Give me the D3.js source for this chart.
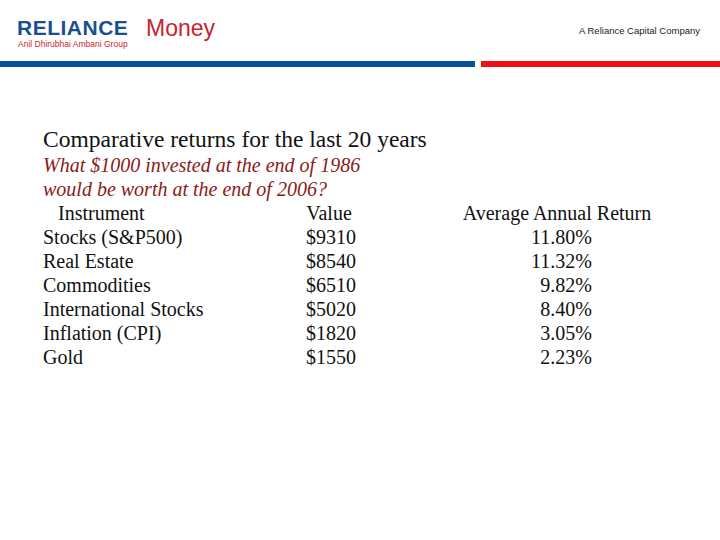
<!DOCTYPE html>
<html><head><meta charset="utf-8">
<script src="https://cdn.jsdelivr.net/npm/d3@7"></script>
<style>body{margin:0;background:#fff}</style>
</head><body>
<div id="chart"></div>
<script>
const instruments = ["Stocks (S&P500)", "Real Estate", "Commodities", "International Stocks", "Inflation (CPI)", "Gold"];
const values = [9310, 8540, 6510, 5020, 1820, 1550];
const returns = [11.80, 11.32, 9.82, 8.40, 3.05, 2.23];
const headers = ["Instrument", "Value", "Average Annual Return"];

const svg = d3.select("#chart").append("svg")
  .attr("width", 720).attr("height", 540);

// Header bars and logo
svg.append("rect").attr("x", 0).attr("y", 61).attr("width", 475).attr("height", 6).attr("fill", "#0d4f9c");
svg.append("rect").attr("x", 481).attr("y", 61).attr("width", 239).attr("height", 6).attr("fill", "#ee1111");
svg.append("text").attr("x", 17).attr("y", 35)
  .attr("font-family", "Liberation Sans, Arial").attr("font-size", 21).attr("font-weight", "bold")
  .attr("fill", "#1a4f8f").attr("letter-spacing", 0.5).text("RELIANCE");
svg.append("text").attr("x", 146).attr("y", 36)
  .attr("font-family", "Liberation Sans, Arial").attr("font-size", 23)
  .attr("fill", "#c8242c").text("Money");
svg.append("text").attr("x", 18).attr("y", 47)
  .attr("font-family", "Liberation Sans, Arial").attr("font-size", 8.5).attr("fill", "#c8242c")
  .text("Anil Dhirubhai Ambani Group");
svg.append("text").attr("x", 700).attr("y", 34).attr("text-anchor", "end")
  .attr("font-family", "Liberation Sans, Arial").attr("font-size", 9.5).attr("fill", "#222")
  .text("A Reliance Capital Company");

const serif = "Liberation Serif, Times New Roman, serif";
svg.append("text").attr("x", 43).attr("y", 147).attr("font-family", serif).attr("font-size", 23.5)
  .attr("fill", "#111").text("Comparative returns for the last 20 years");
["What $1000 invested at the end of 1986", "would be worth at the end of 2006?"].forEach((t, i) =>
  svg.append("text").attr("x", 43).attr("y", 172 + i * 24).attr("font-family", serif)
    .attr("font-size", 20).attr("font-style", "italic").attr("fill", "#8b1a1a").text(t));

// Table rows via band scale
const y = d3.scaleBand().domain(d3.range(instruments.length + 1)).range([202, 370]);
const base = i => y(i) + y.bandwidth() * 0.75;
const g = svg.append("g").attr("font-family", serif).attr("font-size", 20).attr("fill", "#111");

g.append("text").attr("x", 58).attr("y", base(0)).text(headers[0]);
g.append("text").attr("x", 329).attr("y", base(0)).attr("text-anchor", "middle").text(headers[1]);
g.append("text").attr("x", 557).attr("y", base(0)).attr("text-anchor", "middle").text(headers[2]);

const fmt = d3.format(".2f");
instruments.forEach((name, i) => {
  g.append("text").attr("x", 43).attr("y", base(i + 1)).text(name);
  g.append("text").attr("x", 331).attr("y", base(i + 1)).attr("text-anchor", "middle").text("$" + values[i]);
  g.append("text").attr("x", 592).attr("y", base(i + 1)).attr("text-anchor", "end").text(fmt(returns[i]) + "%");
});
</script>
</body></html>
